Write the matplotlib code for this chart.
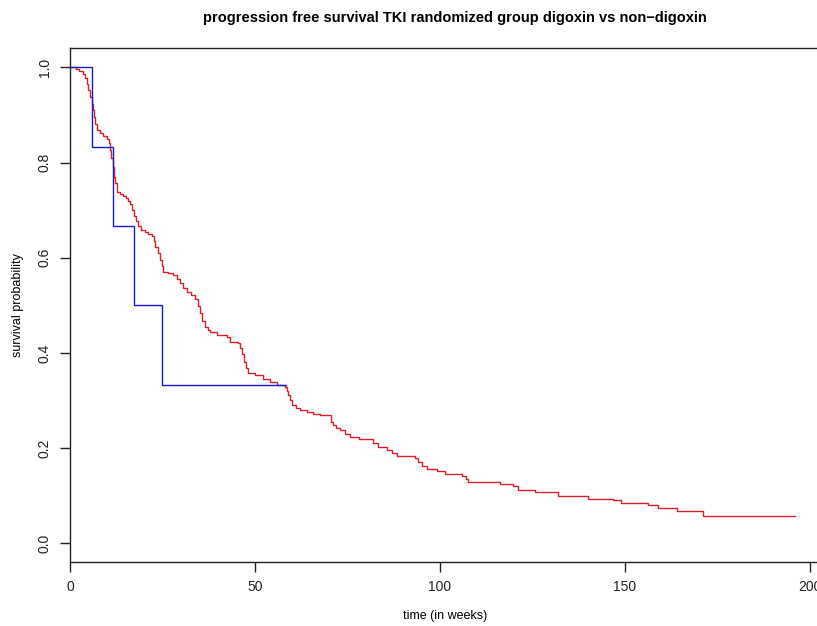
import matplotlib
matplotlib.use("Agg")
import matplotlib.pyplot as plt

plt.rcParams['font.family'] = ['Liberation Sans', 'DejaVu Sans']

# Non-digoxin group (red), step times and survival after each step
red_time = [0, 1.5, 2.5, 3.5, 4.1, 4.5, 4.9, 5.4, 5.9, 6.1, 6.4, 6.8, 7.2, 8.0, 9.0, 10.0,
            10.5, 10.8, 11.2, 11.7, 12.0, 12.2, 12.6, 13.5, 14.4, 15.2, 15.8, 16.3, 16.8,
            17.3, 17.8, 18.5, 19.3, 20.3, 21.2, 22.1, 22.6, 23.0, 23.7, 24.3, 24.8, 25.2,
            26.5, 27.9, 28.8, 29.7, 30.6, 31.5, 32.6, 33.8, 34.5, 35.1, 35.8, 36.5, 37.2,
            37.8, 39.6, 42.3, 43.2, 45.5, 46.0, 46.4, 47.0, 47.5, 48.2, 50.0, 52.2, 54.1,
            55.9, 58.1, 58.6, 59.0, 59.5, 59.9, 61.0, 62.2, 64.0, 65.8, 67.5, 70.5, 71.0,
            72.0, 73.0, 74.3, 75.7, 78.0, 82.0, 83.3, 85.6, 87.0, 88.3, 93.2, 94.1, 95.2,
            96.4, 99.1, 101.4, 105.9, 107.0, 107.7, 116.2, 119.8, 121.2, 125.7, 132.0,
            140.1, 146.8, 148.8, 156.3, 159.0, 164.0, 171.0, 196.0]
red_surv = [1.0, 0.997, 0.993, 0.987, 0.978, 0.965, 0.952, 0.938, 0.924, 0.91, 0.895, 0.88,
            0.868, 0.862, 0.856, 0.850, 0.840, 0.826, 0.81, 0.791, 0.77, 0.756, 0.738, 0.734,
            0.730, 0.726, 0.720, 0.712, 0.700, 0.688, 0.678, 0.667, 0.659, 0.654, 0.650,
            0.646, 0.635, 0.623, 0.610, 0.595, 0.582, 0.570, 0.567, 0.563, 0.555, 0.546,
            0.537, 0.528, 0.521, 0.514, 0.498, 0.483, 0.468, 0.454, 0.448, 0.444, 0.437,
            0.433, 0.423, 0.421, 0.410, 0.398, 0.380, 0.368, 0.358, 0.353, 0.346, 0.339,
            0.333, 0.328, 0.320, 0.311, 0.300, 0.290, 0.284, 0.279, 0.275, 0.271, 0.269,
            0.255, 0.248, 0.242, 0.237, 0.230, 0.223, 0.220, 0.211, 0.202, 0.197, 0.190,
            0.184, 0.180, 0.170, 0.163, 0.155, 0.152, 0.146, 0.142, 0.135, 0.128, 0.125,
            0.120, 0.111, 0.107, 0.100, 0.094, 0.090, 0.085, 0.080, 0.074, 0.068, 0.057,
            0.057]

# Digoxin group (blue)
blue_time = [0, 6.0, 11.7, 17.4, 24.9, 58.3]
blue_surv = [1.0, 0.8333, 0.6667, 0.5, 0.3333, 0.3333]

x_ticks = [0, 50, 100, 150, 200]
y_ticks = [0.0, 0.2, 0.4, 0.6, 0.8, 1.0]

W, H = 817, 626
fig = plt.figure(figsize=(W / 100, H / 100), dpi=100)
left, right, top, bottom = 70, 824.2, 48.3, 562.3
ax = fig.add_axes([left / W, 1 - bottom / H, (right - left) / W, (bottom - top) / H])

ax.step(red_time, red_surv, where='post', color='#d8202a', lw=1.0)
ax.step(blue_time, blue_surv, where='post', color='#1a1ad0', lw=1.0)

ax.set_xlim(0, 203.84)
ax.set_ylim(-0.04, 1.04)
ax.set_xticks(x_ticks)
ax.set_xticklabels([str(t) for t in x_ticks])
ax.set_yticks(y_ticks)
ax.set_yticklabels([f"{t:.1f}" for t in y_ticks], rotation=90, va='center')
ax.tick_params(direction='out', length=7, width=1, labelsize=10, colors='#222222', pad=6)
for sp in ax.spines.values():
    sp.set_linewidth(1)
    sp.set_color('#222222')

fig.text(455 / W, 1 - 18 / H, "progression free survival TKI randomized group digoxin vs non\u2212digoxin",
         ha='center', va='center', fontsize=10.5, fontweight='bold')
fig.text(445 / W, 1 - 616 / H, "time (in weeks)", ha='center', va='center', fontsize=9)
fig.text(18 / W, 1 - 305 / H, "survival probability", ha='center', va='center', fontsize=9, rotation=90)

fig.savefig("out.png", dpi=100)
